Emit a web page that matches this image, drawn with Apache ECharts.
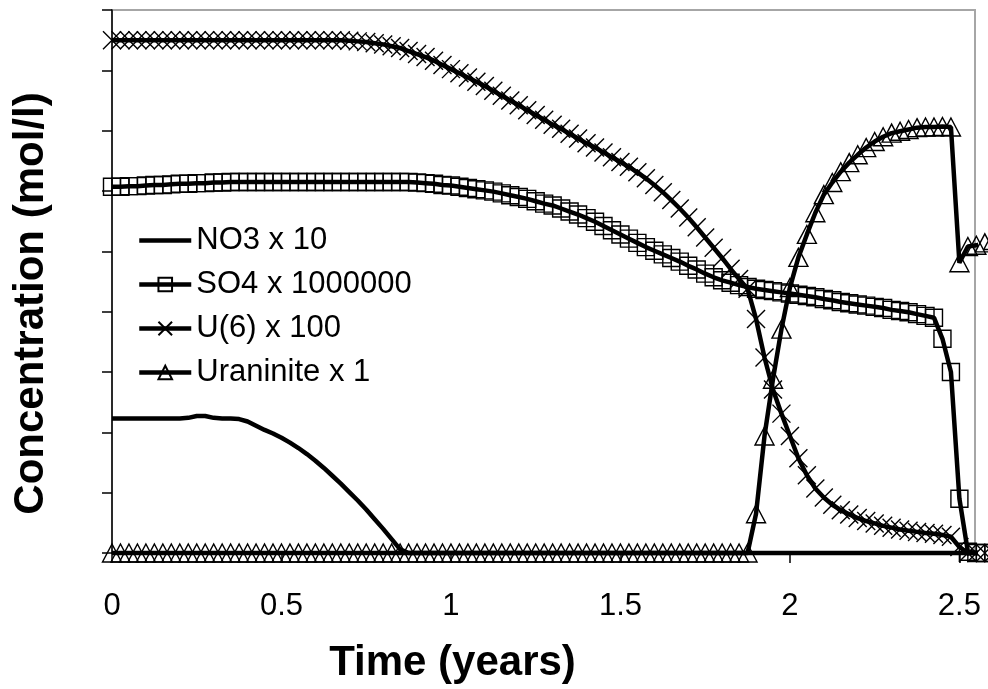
<!DOCTYPE html>
<html>
<head>
<meta charset="utf-8">
<title>Concentration vs time</title>
<script src="https://cdn.jsdelivr.net/npm/echarts@6/dist/echarts.min.js"></script>
<style>
  html, body { margin: 0; padding: 0; background: #fff; }
  #chart { width: 988px; height: 689px; }
</style>
</head>
<body>
<div id="chart"></div>
<script>
// Simulation output times (years)
const time = [
  0, 0.025, 0.05, 0.075, 0.1, 0.125, 0.15, 0.175, 0.2, 0.225,
  0.25, 0.275, 0.3, 0.325, 0.35, 0.375, 0.4, 0.425, 0.45, 0.475,
  0.5, 0.525, 0.55, 0.575, 0.6, 0.625, 0.65, 0.675, 0.7, 0.725,
  0.75, 0.775, 0.8, 0.825, 0.85, 0.875, 0.9, 0.925, 0.95, 0.975,
  1, 1.025, 1.05, 1.075, 1.1, 1.125, 1.15, 1.175, 1.2, 1.225,
  1.25, 1.275, 1.3, 1.325, 1.35, 1.375, 1.4, 1.425, 1.45, 1.475,
  1.5, 1.525, 1.55, 1.575, 1.6, 1.625, 1.65, 1.675, 1.7, 1.725,
  1.75, 1.775, 1.8, 1.825, 1.85, 1.875, 1.9, 1.925, 1.95, 1.975,
  2, 2.025, 2.05, 2.075, 2.1, 2.125, 2.15, 2.175, 2.2, 2.225,
  2.25, 2.275, 2.3, 2.325, 2.35, 2.375, 2.4, 2.425, 2.45, 2.475,
  2.5, 2.525, 2.55, 2.575, 2.6
];

// NO3 x 10
const no3 = [
  2.23, 2.23, 2.23, 2.23, 2.23, 2.23, 2.23, 2.23, 2.23, 2.24,
  2.27, 2.27, 2.24, 2.23, 2.23, 2.22, 2.18, 2.11, 2.04, 1.98,
  1.91, 1.83, 1.74, 1.64, 1.53, 1.41, 1.28, 1.15, 1.01, 0.87,
  0.72, 0.56, 0.40, 0.23, 0.06, 0, 0, 0, 0, 0,
  0, 0, 0, 0, 0, 0, 0, 0, 0, 0,
  0, 0, 0, 0, 0, 0, 0, 0, 0, 0,
  0, 0, 0, 0, 0, 0, 0, 0, 0, 0,
  0, 0, 0, 0, 0, 0, 0, 0, 0, 0,
  0, 0, 0, 0, 0, 0, 0, 0, 0, 0,
  0, 0, 0, 0, 0, 0, 0, 0, 0, 0,
  0, 0, 0, 0, 0
];

// SO4 x 1000000
const so4 = [
  6.07, 6.07, 6.08, 6.08, 6.09, 6.10, 6.10, 6.11, 6.12, 6.12,
  6.13, 6.13, 6.14, 6.14, 6.15, 6.15, 6.15, 6.15, 6.15, 6.15,
  6.15, 6.15, 6.15, 6.15, 6.15, 6.15, 6.15, 6.15, 6.15, 6.15,
  6.15, 6.15, 6.15, 6.15, 6.15, 6.15, 6.14, 6.13, 6.12, 6.10,
  6.09, 6.07, 6.05, 6.03, 6.01, 5.99, 5.96, 5.93, 5.90, 5.87,
  5.83, 5.79, 5.76, 5.71, 5.66, 5.61, 5.55, 5.49, 5.42, 5.35,
  5.28, 5.21, 5.14, 5.07, 5.01, 4.95, 4.89, 4.83, 4.76, 4.70,
  4.63, 4.57, 4.52, 4.48, 4.44, 4.41, 4.38, 4.36, 4.34, 4.32,
  4.30, 4.28, 4.26, 4.24, 4.21, 4.19, 4.16, 4.14, 4.12, 4.10,
  4.08, 4.06, 4.03, 4.01, 3.99, 3.96, 3.93, 3.90, 3.55, 3.00,
  0.90, 0.02, 0, 0, 0
];

// U(6) x 100
const u6 = [
  8.50, 8.50, 8.50, 8.50, 8.50, 8.50, 8.50, 8.50, 8.50, 8.50,
  8.50, 8.50, 8.50, 8.50, 8.50, 8.50, 8.50, 8.50, 8.50, 8.50,
  8.50, 8.50, 8.50, 8.50, 8.50, 8.50, 8.50, 8.50, 8.49, 8.48,
  8.47, 8.45, 8.43, 8.40, 8.37, 8.32, 8.27, 8.22, 8.16, 8.09,
  8.02, 7.95, 7.88, 7.81, 7.74, 7.66, 7.58, 7.50, 7.42, 7.34,
  7.26, 7.18, 7.10, 7.03, 6.95, 6.87, 6.79, 6.72, 6.64, 6.56,
  6.48, 6.40, 6.31, 6.21, 6.10, 5.98, 5.85, 5.71, 5.56, 5.40,
  5.23, 5.06, 4.89, 4.71, 4.54, 4.38, 3.88, 3.24, 2.71, 2.31,
  1.94, 1.57, 1.29, 1.07, 0.92, 0.80, 0.71, 0.64, 0.58, 0.53,
  0.49, 0.45, 0.42, 0.39, 0.37, 0.35, 0.33, 0.32, 0.30, 0.27,
  0.10, 0, 0, 0, 0
];

// Uraninite x 1
const uraninite = [
  0, 0, 0, 0, 0, 0, 0, 0, 0, 0,
  0, 0, 0, 0, 0, 0, 0, 0, 0, 0,
  0, 0, 0, 0, 0, 0, 0, 0, 0, 0,
  0, 0, 0, 0, 0, 0, 0, 0, 0, 0,
  0, 0, 0, 0, 0, 0, 0, 0, 0, 0,
  0, 0, 0, 0, 0, 0, 0, 0, 0, 0,
  0, 0, 0, 0, 0, 0, 0, 0, 0, 0,
  0, 0, 0, 0, 0, 0, 0.65, 1.94, 2.88, 3.71,
  4.40, 4.90, 5.28, 5.64, 5.94, 6.14, 6.32, 6.47, 6.60, 6.72,
  6.82, 6.90, 6.96, 6.99, 7.02, 7.05, 7.06, 7.06, 7.07, 7.06,
  4.81, 5.08, 5.10, 5.14, 5.18
];

const seriesNames = ['NO3 x 10', 'SO4 x 1000000', 'U(6) x 100', 'Uraninite x 1'];
const xTicks = { min: 0, max: 2.546, step: 0.5 };

const FONT = "'Liberation Sans', Arial, sans-serif";
const CROSS = 'path://M0,0L20,20M20,0L0,20';
const LINE_W = 4.5;

function pairs(values) {
  return time.map((t, i) => [t, values[i]]);
}

function makeSeries(name, values, symbol, symbolSize) {
  return {
    name: name,
    type: 'line',
    data: pairs(values),
    clip: false,
    symbol: symbol,
    symbolSize: symbolSize,
    showAllSymbol: true,
    lineStyle: { color: '#000', width: LINE_W },
    itemStyle: { color: 'rgba(0,0,0,0)', borderColor: '#000', borderWidth: 1.4 },
    emphasis: { disabled: true },
    z: 3
  };
}

const legendLine = { color: '#000', width: LINE_W };

const chart = echarts.init(document.getElementById('chart'), null, { renderer: 'canvas' });

chart.setOption({
  animation: false,
  backgroundColor: '#fff',
  textStyle: { fontFamily: FONT, color: '#000' },
  grid: {
    left: 112, right: 13, top: 10, bottom: 135,
    show: true, borderColor: '#a6a6a6', borderWidth: 2, backgroundColor: '#fff'
  },
  legend: {
    orient: 'vertical',
    left: 137,
    top: 225,
    itemWidth: 52,
    itemHeight: 17,
    itemGap: 13,
    padding: 0,
    textStyle: { fontFamily: FONT, fontSize: 31, color: '#000', lineHeight: 31 },
    data: [
      {
        name: seriesNames[0],
        icon: 'path://M0,0L52,0L52,4.5L0,4.5Z',
        itemStyle: { color: '#000', borderWidth: 0 }
      },
      { name: seriesNames[1], lineStyle: legendLine },
      { name: seriesNames[2], lineStyle: legendLine },
      { name: seriesNames[3], lineStyle: legendLine }
    ]
  },
  xAxis: {
    type: 'value',
    min: xTicks.min,
    max: xTicks.max,
    interval: xTicks.step,
    name: 'Time (years)',
    nameLocation: 'middle',
    nameGap: 89,
    nameTextStyle: {
      fontFamily: FONT, fontSize: 42, fontWeight: 'bold', color: '#000',
      padding: [0, 182, 0, 0]
    },
    axisLine: { show: true, onZero: false, lineStyle: { color: '#000', width: 1.5 } },
    axisTick: { show: true, inside: false, length: 10, lineStyle: { color: '#000', width: 1.5 } },
    axisLabel: {
      show: true, margin: 38, fontFamily: FONT, fontSize: 31, color: '#000',
      showMaxLabel: false,
      formatter: v => String(v)
    },
    splitLine: { show: false }
  },
  yAxis: {
    type: 'value',
    min: 0,
    max: 9,
    interval: 1,
    name: 'Concentration (mol/l)',
    nameLocation: 'middle',
    nameGap: 60,
    nameTextStyle: {
      fontFamily: FONT, fontSize: 42, fontWeight: 'bold', color: '#000',
      padding: [0, 44, 0, 0]
    },
    axisLine: { show: true, onZero: false, lineStyle: { color: '#000', width: 1.5 } },
    axisTick: { show: true, inside: false, length: 10, lineStyle: { color: '#000', width: 1.5 } },
    axisLabel: { show: false },
    splitLine: { show: false }
  },
  series: [
    makeSeries(seriesNames[0], no3, 'none', 0),
    makeSeries(seriesNames[1], so4, 'rect', 17),
    makeSeries(seriesNames[2], u6, CROSS, 18),
    makeSeries(seriesNames[3], uraninite, 'triangle', [19, 18])
  ]
});
</script>
</body>
</html>
